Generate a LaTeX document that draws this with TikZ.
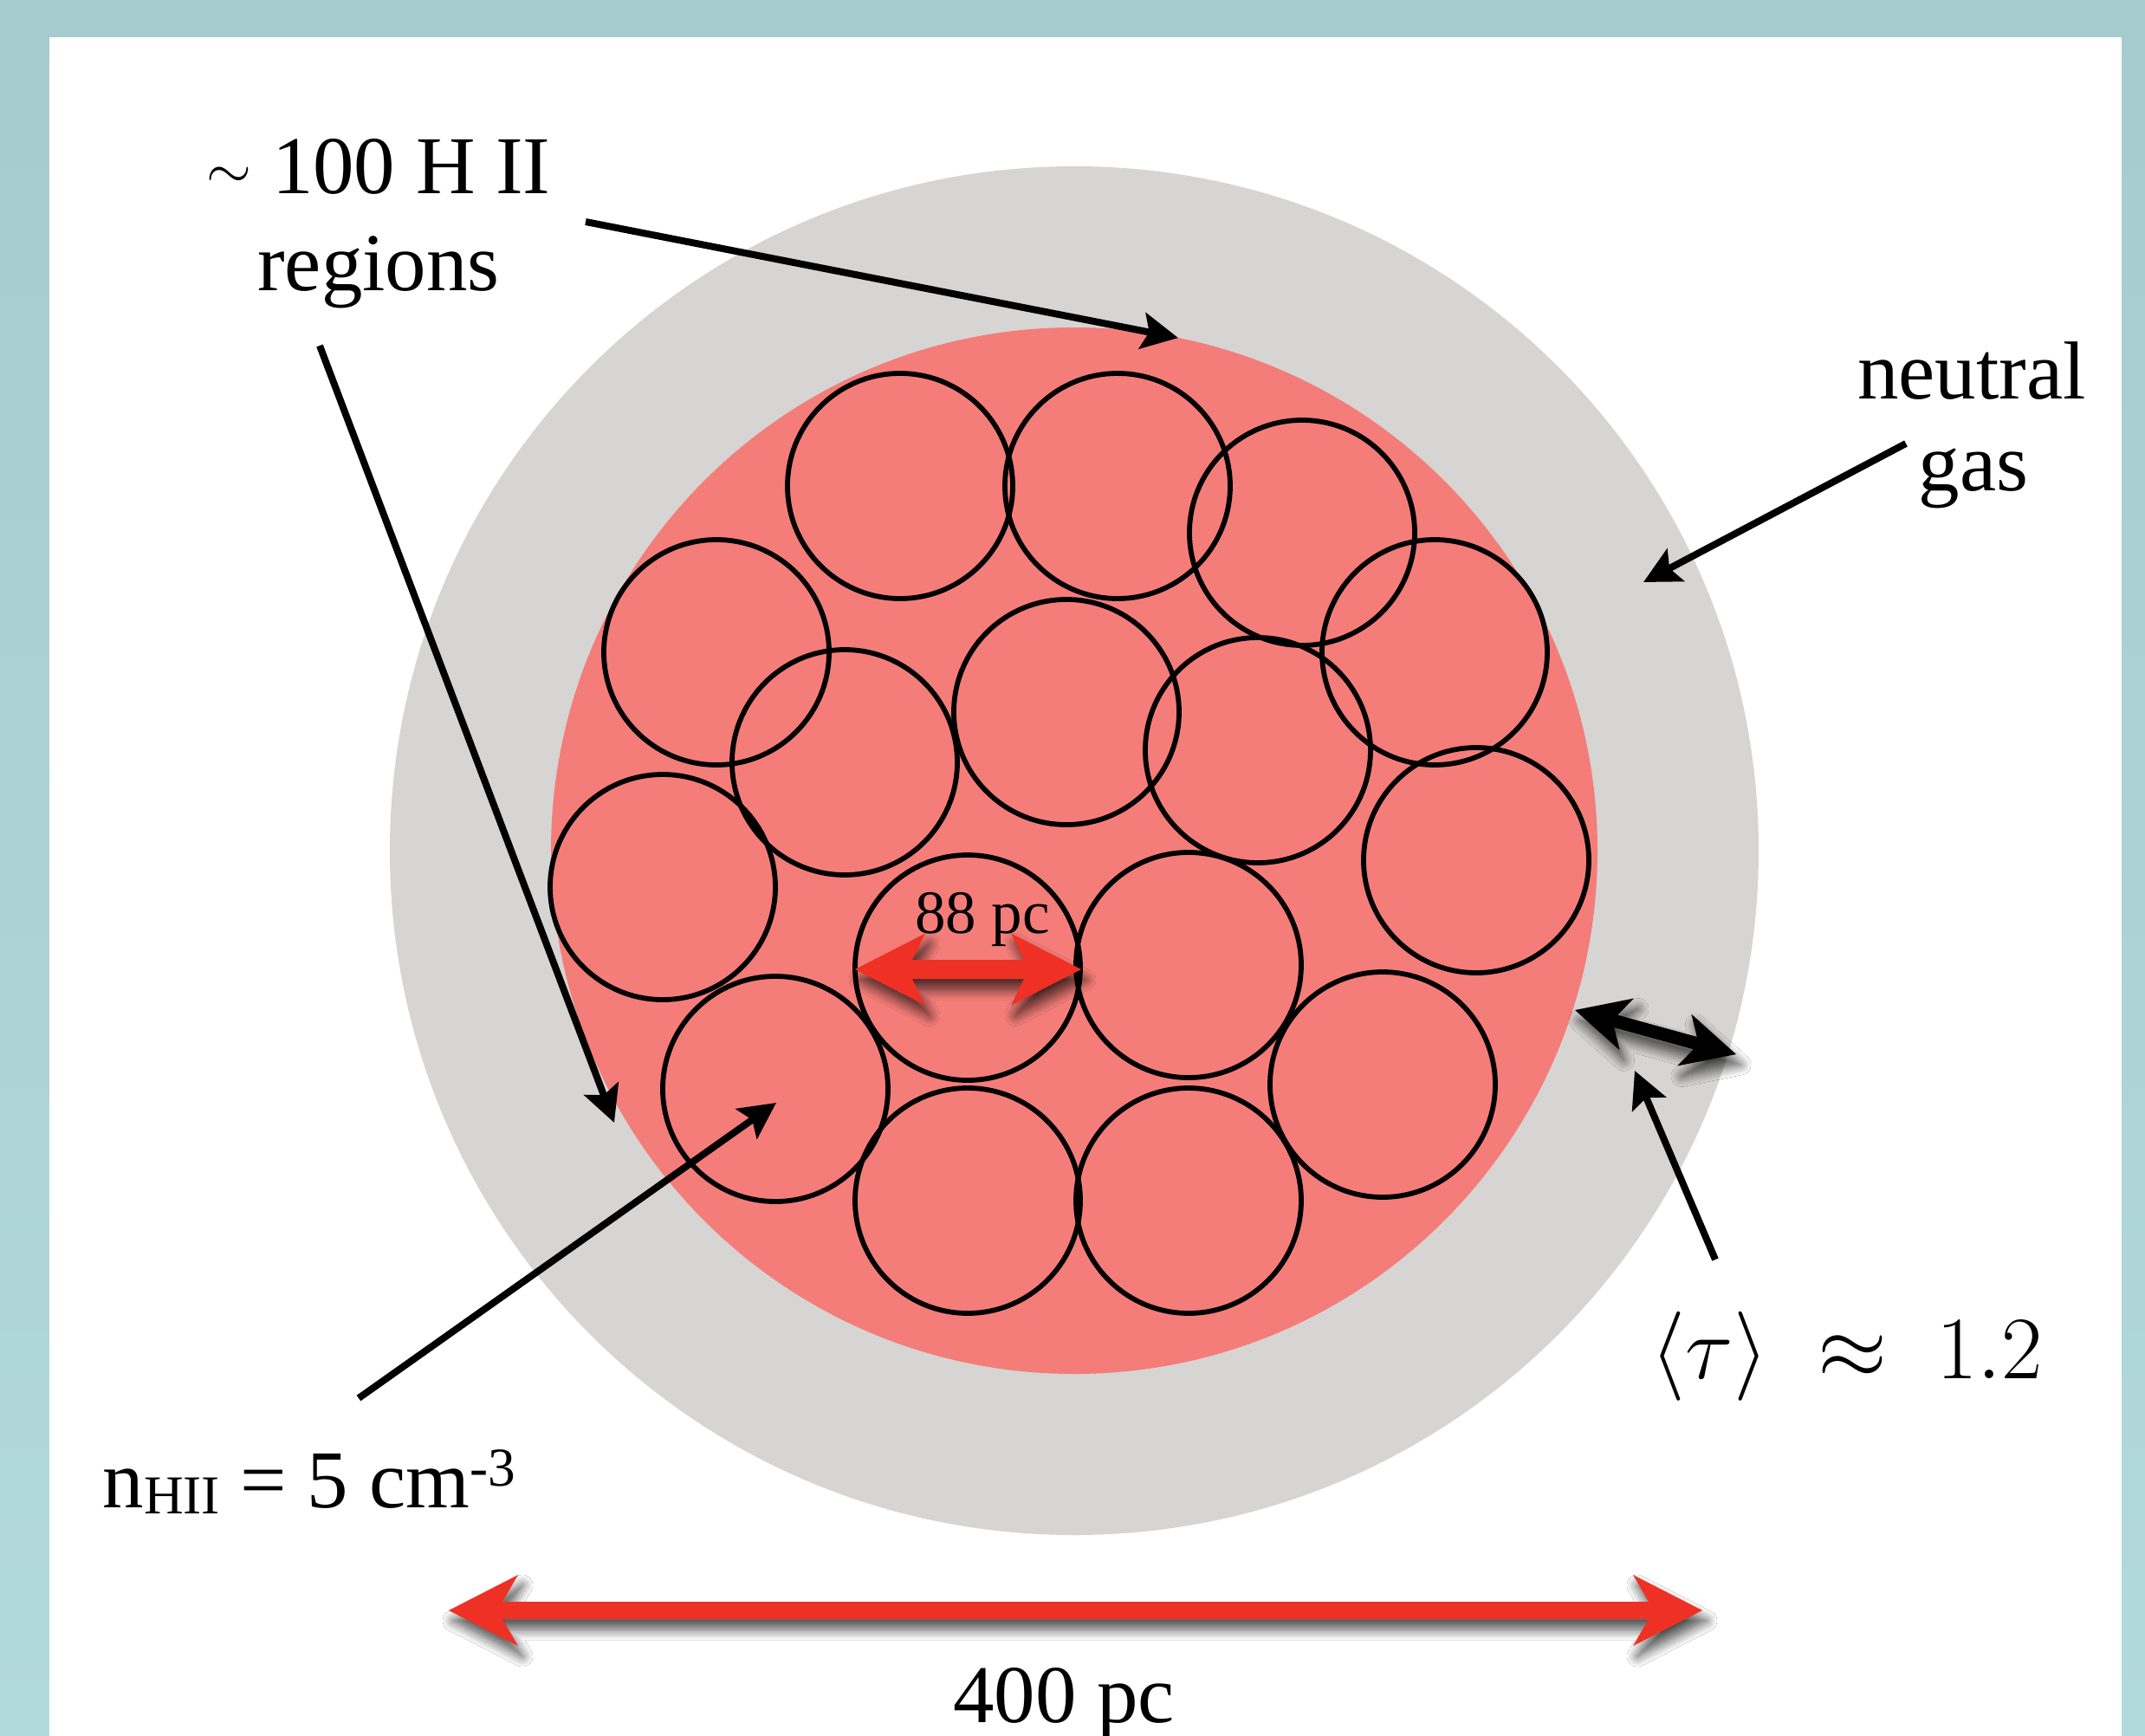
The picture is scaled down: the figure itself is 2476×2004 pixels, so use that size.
\RequirePackage{fix-cm}
\documentclass[tikz,border=0pt]{standalone}
\usepackage{fontspec}
\setmainfont{Liberation Serif}
\usetikzlibrary{calc,arrows.meta,shadows.blur}
\definecolor{tealtop}{RGB}{165,203,206}
\definecolor{tealbot}{RGB}{177,218,220}
\definecolor{gasgray}{RGB}{214,213,211}
\definecolor{hiipink}{RGB}{244,125,121}
\definecolor{arrred}{RGB}{238,49,36}
\tikzset{
  hiicircle/.style={circle, draw=black, line width=0.58mm, minimum size=26mm, inner sep=0pt},
  bigtext/.style={inner sep=0pt, anchor=base, font=\fontsize{27}{32}\selectfont},
  pointer/.style={draw=black, line width=0.8mm, -{Stealth[length=4.2mm,width=4.2mm,inset=0.8mm]}},
  fatshadow/.style={blur shadow={shadow xshift=0.5mm, shadow yshift=-1.2mm, shadow blur radius=1.2mm, shadow blur steps=12, shadow opacity=70}},
}
% #1 start, #2 end, #3 style, #4 head length, #5 head half width, #6 junction, #7 shaft half width
\newcommand\fatdouble[7]{%
  \coordinate (#1L) at ($(#1)!#4!(#2)$);
  \coordinate (#1J) at ($(#1)!#6!(#2)$);
  \coordinate (#2L) at ($(#2)!#4!(#1)$);
  \coordinate (#2J) at ($(#2)!#6!(#1)$);
  \fill[#3] (#1)
    -- ($(#1L)!#5!90:(#2)$) -- ($(#1J)!#7!90:(#2)$)
    -- ($(#2J)!#7!-90:(#1)$) -- ($(#2L)!#5!-90:(#1)$)
    -- (#2)
    -- ($(#2L)!#5!90:(#1)$) -- ($(#2J)!#7!90:(#1)$)
    -- ($(#1J)!#7!-90:(#2)$) -- ($(#1L)!#5!-90:(#2)$)
    -- cycle;
}
\begin{document}
\begin{tikzpicture}[x=0.1mm,y=-0.1mm]
\useasboundingbox (0,0) rectangle (2476,2004);
% frame
\shade[top color=tealtop,bottom color=tealbot] (0,0) rectangle (2476,2004);
\fill[white] (57,43) rectangle (2449,2004);
% discs
\fill[gasgray] (1240,982) circle[radius=790];
\fill[hiipink] (1240,982) circle[radius=604];
% H II regions
\foreach \n/\cx/\cy in {1/1039/561, 2/1290/561, 3/1503/615, 4/827/753, 5/1656/753,
  6/1231/822, 7/975/880, 8/1452/866, 9/765/1024, 10/1704/993, 11/1117/1117,
  12/1372/1114, 13/895/1257, 14/1596/1252, 15/1117/1386, 16/1372/1386}
  \node[hiicircle] (h\n) at (\cx,\cy) {};
% texts
\node[bigtext] (hiia) at (437,223) {\raisebox{0.6mm}{\fontsize{19}{20}\selectfont$\sim$} 100 H II};
\node[bigtext] (hiib) at (437,335) {regions};
\node[bigtext] (nga) at (2276,460) {neutral};
\node[bigtext] (ngb) at (2278,566) {gas};
\node[bigtext, anchor=base west] (nhii) at (118,1740) {n\raisebox{-0.7mm}{\fontsize{18}{20}\selectfont HII} = 5 cm\raisebox{2.5mm}{\fontsize{18}{20}\selectfont -3}};
\node[bigtext] (pcfour) at (1228,1988) {400 pc};
\node[inner sep=0pt, anchor=base, font=\fontsize{20.2}{24}\selectfont] (pcee) at (1134,1077) {88 pc};
\node[inner sep=0pt, anchor=base, font=\fontsize{29.3}{34}\selectfont] (tau) at (2132,1591) {$\langle\tau\rangle\;\approx\;1.2$};
% pointer coordinates
\coordinate (p1s) at (676,256);  \coordinate (p1e) at (1360,390);
\coordinate (p2s) at (369,399);  \coordinate (p2e) at (709,1296);
\coordinate (p3s) at (2200,512); \coordinate (p3e) at (1897,672);
\coordinate (p4s) at (414,1614); \coordinate (p4e) at (896,1273);
\coordinate (p5s) at (1980,1454);\coordinate (p5e) at (1887,1236);
\draw[pointer] (p1s) -- (p1e);
\draw[pointer] (p2s) -- (p2e);
\draw[pointer] (p3s) -- (p3e);
\draw[pointer] (p4s) -- (p4e);
\draw[pointer] (p5s) -- (p5e);
% dimension arrows
\coordinate (ra) at (987,1119);  \coordinate (rb) at (1248,1119);
\coordinate (sa) at (518,1859);  \coordinate (sb) at (1965,1859);
\coordinate (ta) at (1818,1166); \coordinate (tb) at (2004,1217);
\fatdouble{ra}{rb}{arrred,fatshadow}{8.1mm}{4.15mm}{6.6mm}{1.1mm}
\fatdouble{sa}{sb}{arrred,fatshadow}{8mm}{4.1mm}{6.2mm}{1mm}
\fatdouble{ta}{tb}{black,fatshadow}{6.2mm}{3.1mm}{4.9mm}{0.75mm}
\end{tikzpicture}
\end{document}
